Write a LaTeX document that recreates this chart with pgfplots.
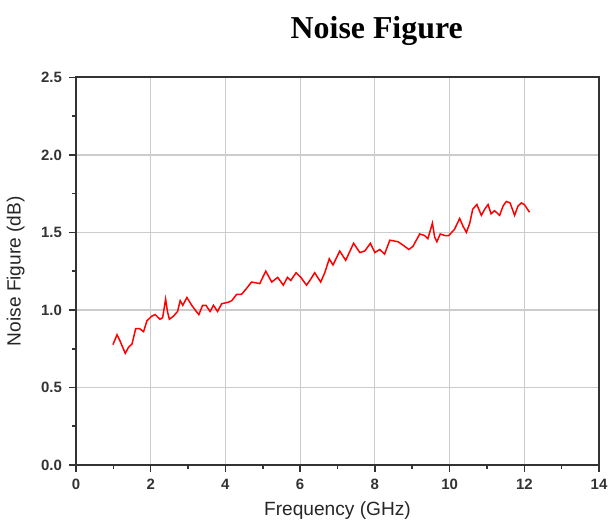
\documentclass[border=0pt]{standalone}
\usepackage{fontspec}
\setmainfont{Liberation Sans}
\newfontfamily\titlefont{Liberation Serif}
\usepackage{pgfplots}
\pgfplotsset{compat=1.18}
\begin{document}
\begin{tikzpicture}
\begin{axis}[
  scale only axis, width=262.5pt, height=194.5pt,
  xmin=0, xmax=14, ymin=0, ymax=2.5,
  xtick={0,2,...,14}, minor x tick num=1,
  ytick={0,0.5,...,2.5}, minor y tick num=1,
  yticklabel style={/pgf/number format/fixed, /pgf/number format/fixed zerofill, /pgf/number format/precision=1},
  /pgf/number format/assume math mode=true,
  tick label style={font=\bfseries\fontsize{7.5}{8}\selectfont, text=black!80},
  grid=major, major grid style={gray!40, line width=0.6pt},
  tick align=outside, xtick pos=bottom, ytick pos=left,
  major tick length=3.5pt, minor tick length=2pt,
  tick style={black!80, line width=0.8pt},
  axis line style={line width=0.9pt, black!80},
  xlabel={Frequency (GHz)}, ylabel={Noise Figure (dB)},
  label style={font=\fontsize{9.6}{11}\selectfont, text=black!85},
  xlabel style={yshift=1pt, text depth=4pt},
  ylabel style={yshift=1.5pt},
  title={\titlefont\bfseries Noise Figure},
  title style={at={(0.575,1)}, anchor=base, yshift=13.5pt, text height=16pt, font=\fontsize{16}{17}\selectfont},
]
\addplot[red, line width=0.75pt] coordinates {
(0.99,0.776) (1.10,0.84) (1.18,0.80) (1.32,0.72) (1.41,0.76) (1.50,0.78)
(1.60,0.88) (1.70,0.88) (1.81,0.86) (1.90,0.93) (2.03,0.96) (2.12,0.97)
(2.25,0.94) (2.32,0.95) (2.40,1.07) (2.45,0.99) (2.50,0.94) (2.61,0.96)
(2.72,0.99) (2.79,1.06) (2.86,1.03) (2.97,1.08) (3.10,1.03) (3.19,1.00)
(3.29,0.97) (3.39,1.03) (3.48,1.03) (3.59,0.99) (3.68,1.03) (3.79,0.99)
(3.90,1.04) (4.08,1.05) (4.17,1.06) (4.30,1.10) (4.43,1.10) (4.57,1.14)
(4.70,1.18) (4.92,1.17) (5.08,1.25) (5.24,1.18) (5.40,1.21) (5.55,1.16)
(5.66,1.21) (5.75,1.19) (5.89,1.24) (6.02,1.21) (6.17,1.16) (6.26,1.19)
(6.39,1.24) (6.55,1.18) (6.66,1.24) (6.78,1.33) (6.88,1.29) (7.06,1.38)
(7.22,1.32) (7.43,1.43) (7.60,1.37) (7.73,1.38) (7.88,1.43) (8.00,1.37)
(8.13,1.39) (8.26,1.36) (8.40,1.45) (8.62,1.44) (8.80,1.41) (8.91,1.39)
(9.02,1.41) (9.20,1.49) (9.33,1.48) (9.42,1.46) (9.54,1.56) (9.60,1.47)
(9.66,1.44) (9.75,1.49) (9.87,1.48) (9.98,1.48) (10.13,1.52) (10.27,1.59)
(10.36,1.54) (10.45,1.50) (10.54,1.56) (10.62,1.65) (10.73,1.68) (10.85,1.61)
(10.94,1.65) (11.03,1.68) (11.11,1.62) (11.20,1.64) (11.25,1.63) (11.34,1.61)
(11.43,1.67) (11.52,1.70) (11.62,1.69) (11.74,1.61) (11.83,1.67) (11.92,1.69)
(12.00,1.68) (12.14,1.63)
};
\end{axis}
\end{tikzpicture}
\end{document}
